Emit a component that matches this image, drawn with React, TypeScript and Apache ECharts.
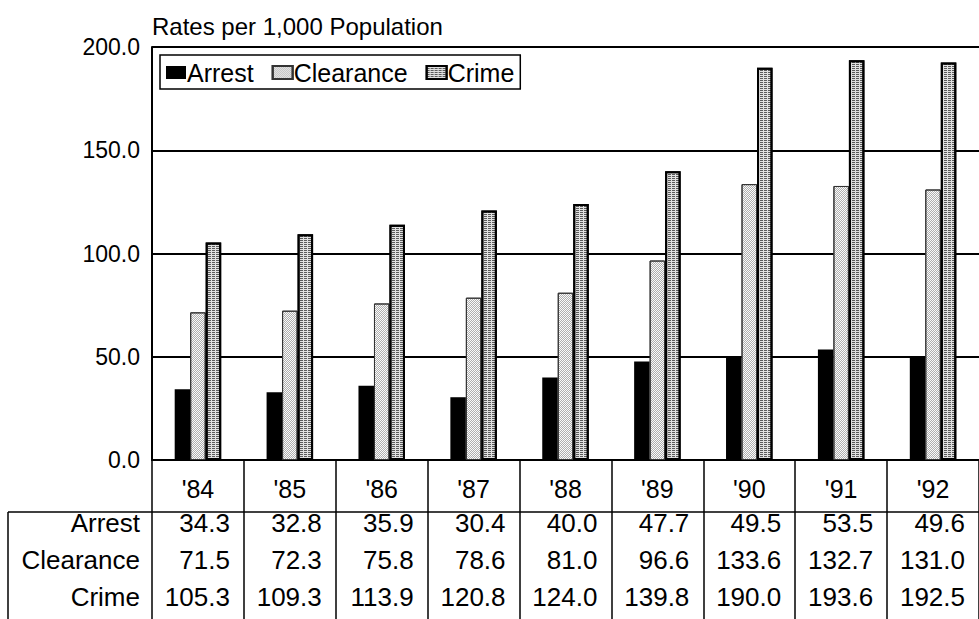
import React, { useEffect, useRef } from "react";
import * as echarts from "echarts";

const years = ["'84", "'85", "'86", "'87", "'88", "'89", "'90", "'91", "'92"];
const arrest = [34.3, 32.8, 35.9, 30.4, 40.0, 47.7, 49.5, 53.5, 49.6];
const clearance = [71.5, 72.3, 75.8, 78.6, 81.0, 96.6, 133.6, 132.7, 131.0];
const crime = [105.3, 109.3, 113.9, 120.8, 124.0, 139.8, 190.0, 193.6, 192.5];
const seriesNames = ["Arrest", "Clearance", "Crime"];
const yMin = 0;
const yMax = 200;
const yStep = 50;
const yTitle = "Rates per 1,000 Population";

const FONT = "'Liberation Sans', Arial, sans-serif";

export default function App() {
  const ref = useRef<HTMLDivElement>(null);
  useEffect(() => {
    document.body.style.margin = "0";
    const chart = echarts.init(ref.current!, null, { renderer: "svg" });
    const gridLeft = 152;
    const gridTop = 47;
    const gridWidth = 830;
    const gridHeight = 413;
    const titleEl = {
      type: "text",
      left: 152,
      top: 14,
      style: { text: yTitle, fontSize: 24, fill: "#000", fontFamily: FONT },
    };
    chart.setOption({
      animation: false,
      backgroundColor: "#fff",
      textStyle: { fontFamily: FONT, color: "#000" },
      grid: { left: gridLeft, top: gridTop, width: gridWidth, height: gridHeight, containLabel: false },
      legend: {
        left: 160,
        top: 55,
        data: seriesNames,
        borderColor: "#000",
        borderWidth: 1.5,
        borderRadius: 0,
        padding: [5, 6, 4, 6],
        itemWidth: 20,
        itemHeight: 13,
        itemGap: 18,
        icon: "rect",
        textStyle: { fontSize: 25, color: "#000", fontFamily: FONT, padding: [0, 0, 0, -4] },
      },
      xAxis: {
        type: "category",
        data: years,
        boundaryGap: true,
        axisLine: { show: true, lineStyle: { color: "#000", width: 2 } },
        axisTick: { show: true, length: 160, alignWithLabel: false, lineStyle: { color: "#000", width: 1.5 } },
        axisLabel: { fontSize: 25, color: "#000", margin: 16, fontFamily: FONT },
      },
      yAxis: {
        type: "value",
        min: yMin,
        max: yMax,
        interval: yStep,
        axisLine: { show: true, lineStyle: { color: "#000", width: 2 } },
        axisTick: { show: false },
        splitLine: { show: true, lineStyle: { color: "#000", width: 2 } },
        axisLabel: {
          fontSize: 23,
          color: "#000",
          margin: 12,
          fontFamily: FONT,
          formatter: (v: number) => v.toFixed(1),
        },
      },
      series: [
        {
          name: seriesNames[0],
          type: "bar",
          data: arrest,
          barWidth: 15.5,
          barGap: "0%",
          itemStyle: { color: "#000" },
        },
        {
          name: seriesNames[1],
          type: "bar",
          data: clearance,
          barWidth: 15.5,
          barGap: "0%",
          itemStyle: {
            color: "#fafafa",
            borderColor: "#333",
            borderWidth: 1,
            decal: {
              symbol: "rect",
              symbolSize: 1,
              color: "rgba(0,0,0,0.3)",
              dashArrayX: [[1, 1], [0, 1, 1, 0]],
              dashArrayY: [1, 0],
            },
          },
        },
        {
          name: seriesNames[2],
          type: "bar",
          data: crime,
          barWidth: 15.5,
          barGap: "0%",
          itemStyle: {
            color: "#e0e0e0",
            borderColor: "#000",
            borderWidth: 2,
            decal: {
              symbol: "rect",
              symbolSize: 1,
              color: "rgba(0,0,0,0.6)",
              dashArrayX: [3, 1],
              dashArrayY: [1, 1],
            },
          },
        },
      ],
      graphic: [titleEl],
    });

    const c0 = chart.convertToPixel({ xAxisIndex: 0 }, years[0]) as number;
    const c1 = chart.convertToPixel({ xAxisIndex: 0 }, years[1]) as number;
    const half = (c1 - c0) / 2;
    const rows = [arrest, clearance, crime];
    const rowY = [523, 560, 597];
    const elems: any[] = [
      titleEl,
      { type: "line", shape: { x1: 8, y1: 512, x2: 979, y2: 512 }, style: { stroke: "#000", lineWidth: 1.5 } },
      { type: "line", shape: { x1: 8, y1: 512, x2: 8, y2: 619 }, style: { stroke: "#000", lineWidth: 1.5 } },
    ];
    rows.forEach((vals, r) => {
      elems.push({
        type: "text",
        x: 140,
        y: rowY[r],
        style: {
          text: seriesNames[r],
          fontSize: 26,
          fill: "#000",
          fontFamily: FONT,
          align: "right",
          verticalAlign: "middle",
        },
      });
      vals.forEach((v, i) => {
        const cx = chart.convertToPixel({ xAxisIndex: 0 }, years[i]) as number;
        elems.push({
          type: "text",
          x: cx + half - 14,
          y: rowY[r],
          style: {
            text: v.toFixed(1),
            fontSize: 26,
            fill: "#000",
            fontFamily: FONT,
            align: "right",
            verticalAlign: "middle",
          },
        });
      });
    });
    chart.setOption({ graphic: elems }, { replaceMerge: ["graphic"] });
    return () => chart.dispose();
  }, []);
  return <div ref={ref} style={{ width: 979, height: 619 }} />;
}
